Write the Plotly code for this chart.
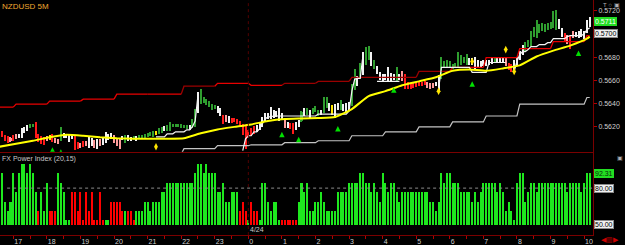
import plotly.graph_objects as go

# ---------------- DATA ----------------
# 5-minute bars, index 0 = 16:35 ... index 211 = 10:10
bar_index = list(range(212))

opens = [0.56144,0.56153,0.56119,0.56110,0.56101,0.56119,0.56127,0.56110,0.56110,0.56153,
0.56170,0.56196,0.56204,0.56222,0.56127,0.56110,0.56101,0.56110,0.56093,0.56127,
0.56093,0.56084,0.56093,0.56110,0.56110,0.56101,0.56101,0.56110,0.56059,0.56050,
0.56067,0.56067,0.56024,0.56041,0.56076,0.56016,0.56084,0.56050,0.56076,0.56093,
0.56101,0.56119,0.56093,0.56084,0.56093,0.56067,0.56084,0.56084,0.56093,0.56084,
0.56101,0.56110,0.56110,0.56119,0.56127,0.56119,0.56136,0.56144,0.56153,0.56170,
0.56170,0.56170,0.56204,0.56204,0.56204,0.56196,0.56196,0.56187,0.56179,0.56196,
0.56204,0.56333,0.56410,0.56410,0.56393,0.56376,0.56350,0.56359,0.56324,0.56299,
0.56290,0.56290,0.56239,0.56264,0.56264,0.56256,0.56239,0.56213,0.56179,0.56161,
0.56179,0.56196,0.56161,0.56179,0.56204,0.56247,0.56273,0.56282,0.56282,0.56290,
0.56256,0.56264,0.56247,0.56196,0.56222,0.56222,0.56179,0.56204,0.56247,0.56299,
0.56307,0.56282,0.56316,0.56333,0.56299,0.56307,0.56333,0.56367,0.56342,0.56307,
0.56282,0.56350,0.56350,0.56342,0.56333,0.56350,0.56393,0.56522,0.56556,0.56625,
0.56693,0.56762,0.56796,0.56728,0.56702,0.56659,0.56608,0.56590,0.56608,0.56608,
0.56599,0.56608,0.56608,0.56608,0.56651,0.56625,0.56573,0.56565,0.56565,0.56573,
0.56582,0.56573,0.56582,0.56573,0.56565,0.56565,0.56556,0.56522,0.56625,0.56711,
0.56719,0.56719,0.56702,0.56711,0.56719,0.56736,0.56753,0.56736,0.56736,0.56736,
0.56693,0.56711,0.56719,0.56728,0.56728,0.56736,0.56745,0.56753,0.56762,0.56762,
0.56762,0.56779,0.56745,0.56728,0.56676,0.56728,0.56779,0.56831,0.56865,0.56899,
0.56916,0.56985,0.56985,0.57019,0.57037,0.57028,0.57045,0.57054,0.57071,0.57054,
0.57054,0.56985,0.57002,0.56985,0.56968,0.57019,0.56985,0.56977,0.56985,0.56968,
0.57019,0.57080]

highs = [0.56153,0.56161,0.56127,0.56119,0.56110,0.56127,0.56136,0.56136,0.56187,0.56196,
0.56213,0.56222,0.56222,0.56239,0.56136,0.56119,0.56110,0.56119,0.56127,0.56136,
0.56101,0.56093,0.56196,0.56144,0.56136,0.56136,0.56127,0.56119,0.56067,0.56059,
0.56076,0.56076,0.56119,0.56101,0.56084,0.56093,0.56093,0.56110,0.56153,0.56136,
0.56144,0.56127,0.56101,0.56101,0.56119,0.56127,0.56127,0.56110,0.56119,0.56119,
0.56127,0.56127,0.56136,0.56144,0.56153,0.56161,0.56161,0.56187,0.56196,0.56204,
0.56213,0.56239,0.56222,0.56222,0.56222,0.56222,0.56213,0.56213,0.56213,0.56264,
0.56350,0.56496,0.56522,0.56453,0.56436,0.56419,0.56393,0.56385,0.56376,0.56359,
0.56299,0.56299,0.56290,0.56273,0.56273,0.56264,0.56247,0.56222,0.56204,0.56170,
0.56187,0.56204,0.56213,0.56230,0.56282,0.56316,0.56316,0.56367,0.56342,0.56333,
0.56359,0.56316,0.56256,0.56239,0.56230,0.56230,0.56239,0.56256,0.56333,0.56359,
0.56359,0.56342,0.56359,0.56376,0.56342,0.56342,0.56453,0.56453,0.56402,0.56385,
0.56393,0.56402,0.56427,0.56393,0.56402,0.56410,0.56565,0.56693,0.56633,0.56745,
0.56848,0.56891,0.56899,0.56848,0.56771,0.56719,0.56668,0.56651,0.56651,0.56711,
0.56659,0.56651,0.56711,0.56651,0.56676,0.56651,0.56582,0.56573,0.56573,0.56582,
0.56590,0.56582,0.56590,0.56582,0.56573,0.56573,0.56582,0.56642,0.56805,0.56762,
0.56771,0.56762,0.56736,0.56753,0.56848,0.56822,0.56805,0.56831,0.56788,0.56788,
0.56805,0.56771,0.56762,0.56771,0.56771,0.56779,0.56788,0.56796,0.56805,0.56796,
0.56805,0.56788,0.56753,0.56736,0.56771,0.56805,0.56856,0.56908,0.56934,0.56951,
0.57028,0.57062,0.57122,0.57088,0.57097,0.57088,0.57097,0.57105,0.57200,0.57208,
0.57131,0.57054,0.57011,0.56994,0.56985,0.57028,0.57019,0.57028,0.57045,0.57028,
0.57122,0.57148]

lows = [0.56110,0.56110,0.56076,0.56059,0.56067,0.56076,0.56093,0.56101,0.56101,0.56144,
0.56161,0.56187,0.56196,0.56101,0.56067,0.56050,0.56041,0.56076,0.56084,0.56067,
0.56059,0.56050,0.56076,0.56101,0.56101,0.56067,0.56093,0.55998,0.56007,0.56016,
0.56024,0.56033,0.56016,0.56033,0.56016,0.56007,0.56033,0.56041,0.56059,0.56084,
0.56093,0.56059,0.56033,0.56007,0.56084,0.56059,0.56076,0.56076,0.56084,0.56076,
0.56093,0.56101,0.56101,0.56110,0.56119,0.56110,0.56127,0.56136,0.56144,0.56161,
0.56161,0.56161,0.56196,0.56196,0.56196,0.56187,0.56187,0.56179,0.56170,0.56187,
0.56196,0.56316,0.56393,0.56402,0.56385,0.56367,0.56342,0.56350,0.56316,0.56290,
0.56222,0.56239,0.56230,0.56230,0.56239,0.56222,0.56196,0.56127,0.56007,0.56101,
0.56119,0.56136,0.56153,0.56170,0.56196,0.56239,0.56264,0.56264,0.56273,0.56282,
0.56247,0.56256,0.56187,0.56187,0.56179,0.56136,0.56170,0.56196,0.56239,0.56290,
0.56299,0.56273,0.56307,0.56324,0.56290,0.56299,0.56316,0.56359,0.56333,0.56299,
0.56273,0.56342,0.56342,0.56333,0.56324,0.56342,0.56376,0.56513,0.56548,0.56616,
0.56642,0.56728,0.56779,0.56719,0.56693,0.56651,0.56599,0.56582,0.56599,0.56590,
0.56590,0.56599,0.56590,0.56599,0.56590,0.56522,0.56522,0.56522,0.56530,0.56539,
0.56548,0.56548,0.56556,0.56530,0.56522,0.56530,0.56548,0.56505,0.56608,0.56702,
0.56711,0.56711,0.56693,0.56702,0.56711,0.56728,0.56745,0.56728,0.56728,0.56728,
0.56685,0.56702,0.56711,0.56719,0.56719,0.56728,0.56736,0.56745,0.56753,0.56753,
0.56753,0.56719,0.56685,0.56668,0.56668,0.56719,0.56771,0.56822,0.56856,0.56891,
0.56899,0.56977,0.56968,0.57011,0.57028,0.57019,0.57037,0.57045,0.57054,0.57037,
0.57045,0.56977,0.56942,0.56916,0.56874,0.56968,0.56977,0.56968,0.56977,0.56959,
0.57011,0.57062]

closes = [0.56119,0.56119,0.56084,0.56067,0.56076,0.56084,0.56101,0.56127,0.56179,0.56187,
0.56204,0.56213,0.56213,0.56119,0.56076,0.56059,0.56050,0.56084,0.56119,0.56076,
0.56067,0.56059,0.56127,0.56136,0.56127,0.56127,0.56119,0.56007,0.56016,0.56024,
0.56033,0.56041,0.56110,0.56093,0.56024,0.56084,0.56041,0.56101,0.56144,0.56127,
0.56136,0.56067,0.56041,0.56024,0.56110,0.56119,0.56119,0.56101,0.56110,0.56110,
0.56119,0.56119,0.56127,0.56136,0.56144,0.56153,0.56153,0.56179,0.56187,0.56196,
0.56204,0.56230,0.56213,0.56213,0.56213,0.56213,0.56204,0.56204,0.56204,0.56256,
0.56333,0.56479,0.56505,0.56445,0.56427,0.56410,0.56385,0.56376,0.56367,0.56350,
0.56230,0.56247,0.56282,0.56239,0.56247,0.56230,0.56204,0.56136,0.56093,0.56110,
0.56127,0.56144,0.56204,0.56222,0.56273,0.56307,0.56307,0.56350,0.56333,0.56324,
0.56342,0.56307,0.56196,0.56230,0.56187,0.56153,0.56230,0.56247,0.56324,0.56350,
0.56350,0.56333,0.56350,0.56367,0.56333,0.56333,0.56436,0.56445,0.56393,0.56376,
0.56385,0.56393,0.56419,0.56385,0.56393,0.56402,0.56522,0.56651,0.56625,0.56736,
0.56831,0.56865,0.56882,0.56839,0.56762,0.56711,0.56659,0.56642,0.56642,0.56693,
0.56651,0.56642,0.56693,0.56642,0.56608,0.56539,0.56530,0.56530,0.56539,0.56548,
0.56556,0.56556,0.56565,0.56539,0.56530,0.56539,0.56573,0.56625,0.56779,0.56753,
0.56762,0.56753,0.56728,0.56745,0.56831,0.56814,0.56796,0.56822,0.56779,0.56779,
0.56796,0.56762,0.56753,0.56762,0.56762,0.56771,0.56779,0.56788,0.56796,0.56788,
0.56796,0.56728,0.56693,0.56676,0.56762,0.56796,0.56848,0.56899,0.56925,0.56942,
0.57011,0.57054,0.57105,0.57079,0.57088,0.57079,0.57088,0.57097,0.57182,0.57191,
0.57122,0.57045,0.56951,0.56925,0.56891,0.56977,0.57011,0.57019,0.57037,0.57019,
0.57105,0.57110]

# candle colour class per bar: g=green, w=white, r=red, p=pink, y=yellow
candle_class = list(
    "rrrrprpwww" "wggrrrrpyr" "ppgwwwwrrp" "rpwwpwpwww" "wpppwgwwgw"
    "ggggggyggw" "ggggggggwg" "gwggggggww" "rpwrrrrrrr" "rrwwwwwwww"
    "wwpwrrwwgw" "gwgggwggwy" "wwgwwwggwg" "wggwgwwwww" "wwgwprrrrr"
    "rrrpppwwgg" "ggggggggww" "wwwwwwwgww" "wprrwwwwgg" "gggggggggg"
    "wwrprpwwww" "ww")

# hourly channel levels (block start bar index)
band_start = [0, 6, 18, 30, 42, 54, 66, 78, 90, 102, 114, 126, 138, 150, 162, 174, 186, 198, 210]
upper_band = [0.56367, 0.56393, 0.56419, 0.56436, 0.56479, 0.56479, 0.56548, 0.56573, 0.56556, 0.56573,
              0.56590, 0.56625, 0.56625, 0.56676, 0.56711, 0.56796, 0.56874, 0.56934, 0.56985]
upper_tone = ['b', 'b', 'b', 'b', 'b', 'b', 'd', 'b', 'b', 'd', 'd', 'd', 'd', 'd', 'b', 'b', 'b', 'b', 'b']
lower_band = [None, None, None, None, None, 0.55960, 0.56007, 0.56033, 0.56041, 0.56059,
              0.56076, 0.56119, 0.56153, 0.56196, 0.56239, 0.56290, 0.56393, 0.56393, 0.56450]

# trailing stop (white) segments: (first bar, values)
stop_segments = [
    (56, [0.56110, 0.56110, 0.56110, 0.56110, 0.56136, 0.56136, 0.56136, 0.56153, 0.56153, 0.56153,
          0.56153, 0.56170, 0.56170, 0.56196, 0.56247, 0.56470]),
    (87, [0.55990, 0.56093, 0.56119, 0.56119, 0.56153, 0.56153, 0.56179, 0.56222, 0.56264, 0.56282,
          0.56282, 0.56290, 0.56290, 0.56290, 0.56290, 0.56290, 0.56290, 0.56290, 0.56290, 0.56290,
          0.56290, 0.56290, 0.56290, 0.56290, 0.56290, 0.56290, 0.56290, 0.56307, 0.56307, 0.56307,
          0.56307, 0.56307, 0.56307, 0.56307, 0.56307, 0.56307, 0.56307, 0.56307, 0.56333, 0.56505,
          0.56608, 0.56616, 0.56616, 0.56822]),
    (135, [0.56590, 0.56590, 0.56590, 0.56590, 0.56590, 0.56590, 0.56590, 0.56590, 0.56590]),
    (157, [0.56522, 0.56711, 0.56711, 0.56711, 0.56711, 0.56711, 0.56711, 0.56711, 0.56711, 0.56711,
           0.56711, 0.56711, 0.56668, 0.56668, 0.56668, 0.56668, 0.56668, 0.56668, 0.56753, 0.56753,
           0.56753, 0.56753, 0.56753, 0.56753, 0.56753]),
    (184, [0.56676, 0.56762, 0.56822, 0.56848, 0.56848, 0.56865, 0.56891, 0.56891, 0.56891, 0.56908,
           0.56908, 0.56908, 0.56925, 0.56925, 0.56959, 0.56959, 0.56959, 0.56959, 0.56959, 0.56977,
           0.56985, 0.56985, 0.56985, 0.56985, 0.56985, 0.57002, 0.57037, 0.57054]),
]

# moving average (yellow), sampled bars
ma_bar = [0, 6, 12, 18, 24, 30, 36, 42, 48, 54, 60, 66, 72, 78, 84, 90, 96, 102, 108, 114,
          120, 126, 132, 138, 144, 150, 156, 162, 168, 174, 180, 186, 192, 198, 204, 210, 211]
ma_val = [0.56024, 0.56050, 0.56076, 0.56106, 0.56127, 0.56119, 0.56106, 0.56097, 0.56093, 0.56093,
          0.56093, 0.56097, 0.56140, 0.56174, 0.56196, 0.56217, 0.56247, 0.56264, 0.56269, 0.56273,
          0.56282, 0.56350, 0.56462, 0.56505, 0.56556, 0.56590, 0.56625, 0.56681, 0.56693, 0.56681,
          0.56702, 0.56728, 0.56805, 0.56856, 0.56899, 0.56959, 0.56977]

# signal markers
buy_bar = [19, 22, 101, 107, 121, 141, 169, 207]
buy_price = [0.56020, 0.56002, 0.56153, 0.56110, 0.56204, 0.56539, 0.56590, 0.56856]
alert_bar = [56, 157, 169, 181, 184]
alert_price = [0.56024, 0.56505, 0.56762, 0.56865, 0.56676]

# FX Power Index (20,15)
power_value = [
    92.31, 92.31, 69.23, 61.54, 69.23, 92.31, 76.92, 92.31, 100, 100,
    92.31, 100, 92.31, 76.92, 61.54, 76.92, 61.54, 84.62, 61.54, 61.54,
    61.54, 92.31, 84.62, 76.92, 53.85, 53.85, 76.92, 76.92, 61.54, 76.92,
    53.85, 76.92, 61.54, 76.92, 53.85, 53.85, 76.92, 53.85, 53.85, 53.85,
    69.23, 69.23, 69.23, 69.23, 61.54, 61.54, 61.54, 61.54, 53.85, 61.54,
    61.54, 61.54, 69.23, 69.23, 61.54, 69.23, 69.23, 69.23, 76.92, 76.92,
    84.62, 84.62, 84.62, 84.62, 84.62, 84.62, 84.62, 84.62, 84.62, 84.62,
    92.31, 100, 100, 92.31, 100, 92.31, 92.31, 92.31, 76.92, 76.92,
    84.62, 69.23, 69.23, 76.92, 76.92, 76.92, 61.54, 69.23, 61.54, 53.85,
    69.23, 61.54, 61.54, 53.85, 84.62, 84.62, 69.23, 61.54, 69.23, 69.23,
    53.85, 53.85, 53.85, 53.85, 53.85, 53.85, 53.85, 69.23, 84.62, 76.92,
    84.62, 61.54, 61.54, 69.23, 69.23, 76.92, 69.23, 61.54, 61.54, 61.54,
    61.54, 76.92, 76.92, 76.92, 76.92, 84.62, 84.62, 84.62, 84.62, 92.31,
    92.31, 84.62, 84.62, 76.92, 84.62, 76.92, 69.23, 92.31, 84.62, 76.92,
    84.62, 84.62, 76.92, 69.23, 76.92, 76.92, 76.92, 76.92, 76.92, 76.92,
    76.92, 76.92, 76.92, 76.92, 69.23, 69.23, 61.54, 69.23, 92.31, 84.62,
    92.31, 92.31, 84.62, 84.62, 84.62, 76.92, 76.92, 76.92, 76.92, 69.23,
    76.92, 69.23, 76.92, 84.62, 84.62, 84.62, 84.62, 84.62, 76.92, 84.62,
    76.92, 61.54, 69.23, 61.54, 53.85, 84.62, 92.31, 92.31, 69.23, 76.92,
    84.62, 84.62, 76.92, 84.62, 84.62, 84.62, 84.62, 84.62, 84.62, 84.62,
    84.62, 84.62, 84.62, 76.92, 84.62, 84.62, 84.62, 84.62, 76.92, 84.62,
    92.31, 92.31]
power_side = list(
    "gggggggggg" "ggggrgggrr" "rgggggrrrr" "rrrrrrrrgg" "rrrrrgrrrg"
    "gggggggggg" "gggggggggg" "gggggggggg" "ggggggrrrg" "rrrggggggg"
    "grrrrrrggg" "gggggggggg" "gggggggggg" "gggggggggg" "gggggggggg"
    "gggggggggg" "gggggggggg" "gggggggggg" "gggggggggg" "gggggggggg"
    "gggggggggg" "gg")
power_base = 50
power_level = 80

hour_bar = [5, 17, 29, 41, 53, 65, 77, 89, 101, 113, 125, 137, 149, 161, 173, 185, 197, 209]
hour_labels = ['17', '18', '19', '20', '21', '22', '23', '0', '1', '2', '3', '4', '5', '6', '7', '8', '9', '10']
day_bar = 89
day_label = '4/24'

price_ticks = [0.5620, 0.5640, 0.5660, 0.5680, 0.5720]
last_price = 0.5711
stop_price = 0.5700
power_last = 92.31
power_marks = [80.00, 50.00]

# ---------------- STYLE ----------------
FONT = "Liberation Sans, Arial, sans-serif"
CANDLE_COL = {'g': '#2f9e2f', 'w': '#f2f2f2', 'r': '#ff1a1a', 'p': '#ff9c9c', 'y': '#ffe600'}
X_RANGE = [0.25, 212.18]
AXIS_RED = '#7a0000'
TICK_RED = '#b00000'

fig = go.Figure()

# candles: wicks + bodies as bars
cols = [CANDLE_COL[c] for c in candle_class]
fig.add_trace(go.Bar(x=bar_index, base=lows, y=[h - l for h, l in zip(highs, lows)],
                     width=0.36, marker=dict(color=cols, line=dict(width=0)),
                     xaxis='x', yaxis='y', hoverinfo='skip'))
body_base = [min(o, c) for o, c in zip(opens, closes)]
body_h = [max(abs(c - o), 0.00009) for o, c in zip(opens, closes)]
fig.add_trace(go.Bar(x=bar_index, base=body_base, y=body_h, width=0.72,
                     marker=dict(color=cols, line=dict(width=0)),
                     xaxis='x', yaxis='y', hoverinfo='skip'))

# hourly channel lines
band_end = [s - 1 for s in band_start[1:]] + [bar_index[-1]]
for tone, colr in (('b', '#e80000'), ('d', '#9a0000')):
    xs, ys = [], []
    for k in range(len(band_start)):
        if upper_tone[k] != tone:
            continue
        if k > 0:
            xs.append(band_end[k - 1]); ys.append(upper_band[k - 1])
        xs += [band_start[k], band_end[k]]; ys += [upper_band[k], upper_band[k]]
        xs.append(None); ys.append(None)
    fig.add_trace(go.Scatter(x=xs, y=ys, mode='lines', line=dict(color=colr, width=1.3),
                             xaxis='x', yaxis='y', hoverinfo='skip'))

xs, ys = [], []
for k in range(len(band_start)):
    if lower_band[k] is None:
        continue
    xs += [band_start[k], band_end[k]]; ys += [lower_band[k], lower_band[k]]
fig.add_trace(go.Scatter(x=xs, y=ys, mode='lines', line=dict(color='#c4c4c4', width=1.2),
                         xaxis='x', yaxis='y', hoverinfo='skip'))

# trailing stop (white)
xs, ys = [], []
for start, vals in stop_segments:
    xs += list(range(start, start + len(vals))) + [None]
    ys += vals + [None]
fig.add_trace(go.Scatter(x=xs, y=ys, mode='lines', line=dict(color='#f4f4f4', width=1.2),
                         xaxis='x', yaxis='y', hoverinfo='skip'))

# moving average
fig.add_trace(go.Scatter(x=ma_bar, y=ma_val, mode='lines',
                         line=dict(color='#ffff00', width=2, shape='spline', smoothing=0.5),
                         xaxis='x', yaxis='y', hoverinfo='skip'))

# markers
fig.add_trace(go.Scatter(x=buy_bar, y=buy_price, mode='markers',
                         marker=dict(symbol='arrow-up', size=5.5, color='#00e000'),
                         xaxis='x', yaxis='y', hoverinfo='skip'))
fig.add_trace(go.Scatter(x=alert_bar, y=alert_price, mode='markers',
                         marker=dict(symbol='diamond-tall', size=5.5, color='#ffe600'),
                         xaxis='x', yaxis='y', hoverinfo='skip'))

# power index
pcols = ['#1ee81e' if s == 'g' else '#ff0000' for s in power_side]
fig.add_trace(go.Bar(x=bar_index, base=power_base, y=[v - power_base for v in power_value],
                     width=0.72, marker=dict(color=pcols, line=dict(width=0)),
                     xaxis='x2', yaxis='y2', hoverinfo='skip'))

fig.update_layout(
    width=625, height=245, margin=dict(l=0, r=32, t=0, b=8),
    paper_bgcolor='#000000', plot_bgcolor='#000000',
    showlegend=False, barmode='overlay', bargap=0,
    font=dict(family=FONT, size=7, color='#cfcfcf'),
    xaxis=dict(domain=[0, 1], range=X_RANGE, anchor='y', showgrid=False, zeroline=False,
               showticklabels=False, ticks='', showline=True, linecolor=AXIS_RED, linewidth=1),
    yaxis=dict(domain=[0.3544, 1], range=[0.55981, 0.57294], anchor='x', side='right',
               showgrid=False, zeroline=False, tickvals=price_ticks,
               ticktext=['%.4f' % v for v in price_ticks], ticks='outside', ticklen=3,
               tickcolor=TICK_RED, tickfont=dict(size=7, color='#d0d0d0', family=FONT),
               showline=True, linecolor=AXIS_RED, linewidth=1),
    xaxis2=dict(domain=[0, 1], range=X_RANGE, anchor='y2', showgrid=False, zeroline=False,
                tickvals=hour_bar, ticktext=hour_labels, ticks='outside', ticklen=3,
                tickcolor=TICK_RED, ticklabelposition='outside right',
                tickfont=dict(size=7, color='#cfcfcf', family=FONT),
                minor=dict(tickmode='linear', tick0=-1, dtick=6, ticks='outside', ticklen=3,
                           tickcolor=TICK_RED),
                showline=True, linecolor=AXIS_RED, linewidth=1),
    yaxis2=dict(domain=[0, 0.3502], range=[41.64, 108.98], anchor='x2', side='right',
                showgrid=False, zeroline=False, showticklabels=False, ticks='',
                showline=True, linecolor=AXIS_RED, linewidth=1),
)

shapes = [
    dict(type='line', xref='x', yref='y domain', x0=day_bar, x1=day_bar, y0=0.05, y1=1,
         line=dict(color='#520000', width=1, dash='dot')),
    dict(type='line', xref='x2', yref='y2 domain', x0=day_bar, x1=day_bar, y0=0, y1=1,
         line=dict(color='#520000', width=1, dash='dot')),
    dict(type='line', xref='x2 domain', yref='y2', x0=0.012, x1=1, y0=power_level, y1=power_level,
         line=dict(color='#8c8c8c', width=1, dash='dot')),
]
fig.update_layout(shapes=shapes)

ann = []
ann.append(dict(text='NZDUSD 5M', xref='paper', yref='paper', x=0, y=1, xanchor='left', yanchor='top',
                xshift=0, yshift=0, showarrow=False, font=dict(size=8, color='#f0a830', family=FONT)))
ann.append(dict(text='FX Power Index (20,15)', xref='paper', yref='paper', x=0, y=0.3502,
                xanchor='left', yanchor='top', showarrow=False,
                font=dict(size=7, color='#c8c8c8', family=FONT)))
ann.append(dict(text=day_label, xref='x2', yref='paper', x=day_bar, y=0, xanchor='left',
                yanchor='bottom', xshift=0, yshift=0, showarrow=False,
                font=dict(size=7, color='#c8c8c8', family=FONT)))


def box(text, yref, y, bg, fg, border):
    return dict(text=text, xref='paper', yref=yref, x=1, y=y, xanchor='left', yanchor='middle',
                xshift=1, showarrow=False, bgcolor=bg, bordercolor=border, borderwidth=1,
                borderpad=0, font=dict(size=7, color=fg, family=FONT))


ann.append(box('%.4f' % last_price, 'y', last_price, '#22dd22', '#ffffff', '#22dd22'))
ann.append(box('%.4f' % stop_price, 'y', stop_price, '#f0f0f0', '#000000', '#8a8a8a'))
ann.append(box('%.2f' % power_last, 'y2', power_last, '#22dd22', '#0a2a0a', '#22dd22'))
for v in power_marks:
    ann.append(box('%.2f' % v, 'y2', v, '#f0f0f0', '#000000', '#8a8a8a'))

ann.append(dict(text='T ○ ▣', xref='paper', yref='paper', x=1, y=1, xanchor='left', yanchor='top',
                xshift=8, showarrow=False, font=dict(size=6, color='#b0b0b0', family=FONT)))
ann.append(dict(text='▣', xref='paper', yref='paper', x=1, y=0.3502, xanchor='left', yanchor='top',
                xshift=22, showarrow=False, font=dict(size=6, color='#b0b0b0', family=FONT)))
ann.append(dict(text='◀▥▶', xref='paper', yref='paper', x=1, y=0, xanchor='left', yanchor='top',
                xshift=6, yshift=1, showarrow=False, font=dict(size=7, color='#cc0000', family=FONT)))
fig.update_layout(annotations=ann)

fig.write_html("out.html")
